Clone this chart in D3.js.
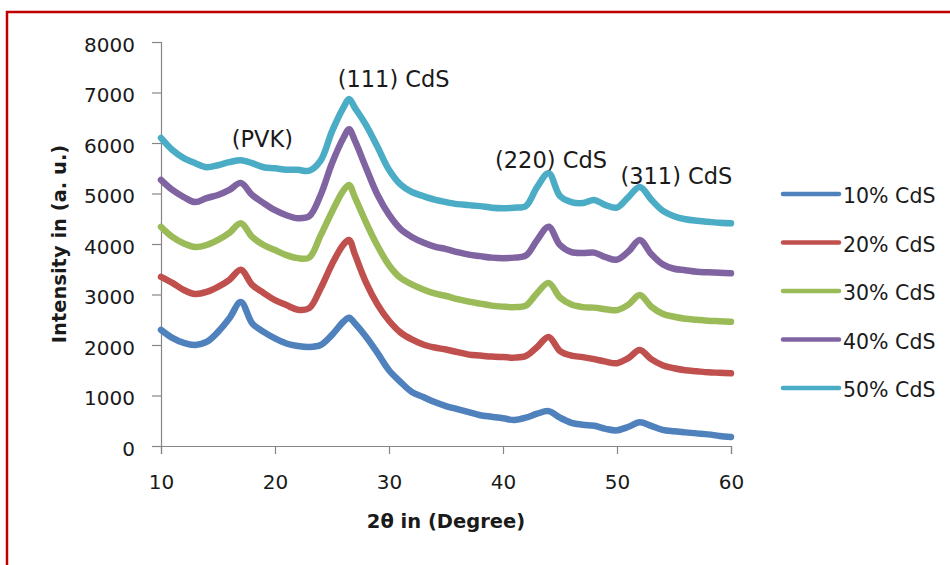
<!DOCTYPE html>
<html>
<head>
<meta charset="utf-8">
<script src="https://cdn.jsdelivr.net/npm/d3@7"></script>
<style>
	body { margin: 0; background: #fff; }
	text { font-family: "DejaVu Sans", sans-serif; fill: #1a1a1a; }
</style>
</head>
<body>
<div id="chart"></div>
<script>
let width = 950;
let height = 565;
let margin = {top: 42, left: 161, right: 219, bottom: 119};

// 2-theta positions (degrees)
let angles = [10, 11, 12, 13, 14, 15, 16, 17, 18, 19, 20, 21, 22, 23, 24, 25, 26, 26.5, 27, 28, 29, 30,
	31, 32, 33, 34, 35, 36, 37, 38, 39, 40, 41, 42, 43, 44, 45, 46, 47, 48, 49, 50,
	51, 52, 53, 54, 55, 56, 57, 58, 59, 60];

// intensities, one list per sample
let cds10 = [2300, 2140, 2040, 2000, 2060, 2260, 2530, 2850, 2430, 2260, 2130, 2030, 1980, 1960, 2000, 2200, 2460, 2540, 2430, 2160, 1840, 1500,
	1270, 1070, 970, 870, 790, 730, 670, 610, 580, 550, 515, 560, 640, 690, 560, 460, 420, 400, 340, 310,
	380, 470, 400, 320, 290, 270, 250, 230, 200, 180];
let cds20 = [3350, 3230, 3090, 3010, 3050, 3150, 3290, 3490, 3190, 3030, 2890, 2790, 2700, 2730, 3120, 3600, 3990, 4080, 3800, 3230, 2800, 2480,
	2250, 2110, 2010, 1950, 1910, 1860, 1810, 1790, 1770, 1760, 1750, 1780, 1960, 2160, 1880, 1790, 1760, 1720, 1670, 1640,
	1740, 1900, 1720, 1600, 1540, 1500, 1480, 1460, 1450, 1440];
let cds30 = [4340, 4140, 4010, 3940, 3980, 4080, 4220, 4410, 4140, 3980, 3880, 3780, 3720, 3730, 4170, 4640, 5060, 5170, 4930, 4420, 3960, 3580,
	3330, 3200, 3100, 3020, 2970, 2910, 2860, 2820, 2780, 2760, 2750, 2780, 3030, 3230, 2940, 2800, 2750, 2740, 2710, 2690,
	2800, 2990, 2760, 2620, 2560, 2520, 2500, 2480, 2470, 2460];
let cds40 = [5270, 5070, 4930, 4830, 4910, 4970, 5070, 5210, 4970, 4810, 4670, 4570, 4510, 4550, 4970, 5600, 6100, 6270, 6050, 5500, 4970, 4580,
	4300, 4140, 4030, 3950, 3900, 3840, 3790, 3760, 3730, 3720, 3730, 3770, 4080, 4340, 3980, 3840, 3820, 3830, 3740, 3690,
	3850, 4080, 3800, 3600, 3510, 3480, 3450, 3440, 3430, 3420];
let cds50 = [6100, 5860, 5700, 5600, 5520, 5560, 5620, 5660, 5600, 5520, 5500, 5470, 5470, 5450, 5650, 6230, 6700, 6870, 6700, 6350, 5920, 5470,
	5180, 5030, 4950, 4880, 4830, 4790, 4770, 4750, 4720, 4710, 4720, 4750, 5130, 5400, 4950, 4830, 4810, 4870, 4770, 4720,
	4930, 5130, 4880, 4660, 4550, 4490, 4460, 4440, 4420, 4410];

let seriesNames = ["10% CdS", "20% CdS", "30% CdS", "40% CdS", "50% CdS"];
let seriesValues = [cds10, cds20, cds30, cds40, cds50];
let colors = ["#4f81bd", "#c0504d", "#9bbb59", "#8064a2", "#4bacc6"];

let xTicks = [10, 20, 30, 40, 50, 60];
let yTicks = [0, 1000, 2000, 3000, 4000, 5000, 6000, 7000, 8000];

// peak labels, anchored in data units (left edge / baseline)
let peakLabels = ["(PVK)", "(111) CdS", "(220) CdS", "(311) CdS"];
let peakX = [16.2, 25.5, 39.3, 50.3];
let peakY = [5920, 7110, 5500, 5190];

let plotW = width - margin.left - margin.right;
let plotH = height - margin.top - margin.bottom;

let svg = d3.select("#chart").append("svg")
	.attr("width", width)
	.attr("height", height);

// red frame around the figure, runs off the right and bottom
svg.append("rect")
	.attr("x", 7)
	.attr("y", 12)
	.attr("width", 960)
	.attr("height", 580)
	.attr("fill", "none")
	.attr("stroke", "#c00000")
	.attr("stroke-width", 2.5);

let x = d3.scaleLinear().domain([10, 60]).range([margin.left, margin.left + plotW]);
let y = d3.scaleLinear().domain([0, 8000]).range([margin.top + plotH, margin.top]);

// y axis
let yAxis = svg.append("g")
	.attr("transform", "translate(" + margin.left + ",0)")
	.call(d3.axisLeft(y).tickValues(yTicks).tickSize(9).tickPadding(17).tickFormat(d3.format("d")));
yAxis.selectAll("text").style("font-size", "20px").attr("dy", "0.47em");

// x axis
let xAxis = svg.append("g")
	.attr("transform", "translate(0," + (margin.top + plotH) + ")")
	.call(d3.axisBottom(x).tickValues(xTicks).tickSize(8).tickFormat(d3.format("d")));
xAxis.selectAll("text").style("font-size", "20px").attr("y", 29).attr("dy", "0.71em");

svg.selectAll(".domain, .tick line").attr("stroke", "#868686").attr("stroke-width", 1.2);
svg.selectAll(".tick text").attr("fill", "#1a1a1a");

// axis titles
svg.append("text")
	.attr("x", x(35))
	.attr("y", 528)
	.attr("text-anchor", "middle")
	.style("font-size", "19.5px")
	.style("font-weight", "bold")
	.text("2θ in (Degree)");

svg.append("text")
	.attr("transform", "translate(66," + (margin.top + plotH / 2) + ") rotate(-90)")
	.attr("text-anchor", "middle")
	.style("font-size", "19.5px")
	.style("font-weight", "bold")
	.text("Intensity in (a. u.)");

// the patterns
let line = d3.line()
	.x(function(d, i){ return x(angles[i]); })
	.y(function(d){ return y(d); })
	.curve(d3.curveCatmullRom.alpha(0.5));

svg.selectAll(".series")
	.data(seriesValues)
	.enter().append("path")
	.attr("class", "series")
	.attr("d", line)
	.attr("fill", "none")
	.attr("stroke", function(d, i){ return colors[i]; })
	.attr("stroke-width", 6.5)
	.attr("stroke-linejoin", "round")
	.attr("stroke-linecap", "round");

// peak annotations
svg.selectAll(".peak")
	.data(peakLabels)
	.enter().append("text")
	.attr("class", "peak")
	.attr("x", function(d, i){ return x(peakX[i]); })
	.attr("y", function(d, i){ return y(peakY[i]); })
	.style("font-size", "22.5px")
	.text(function(d){ return d; });

// legend
let legend = svg.selectAll(".legend")
	.data(seriesNames)
	.enter().append("g")
	.attr("class", "legend")
	.attr("transform", function(d, i){ return "translate(783," + (194 + i * 48.5) + ")"; });

legend.append("line")
	.attr("x1", 0)
	.attr("x2", 56)
	.attr("stroke", function(d, i){ return colors[i]; })
	.attr("stroke-width", 4.5)
	.attr("stroke-linecap", "round");

legend.append("text")
	.attr("x", 60)
	.attr("y", 9)
	.style("font-size", "20.5px")
	.text(function(d){ return d; });
</script>
</body>
</html>
